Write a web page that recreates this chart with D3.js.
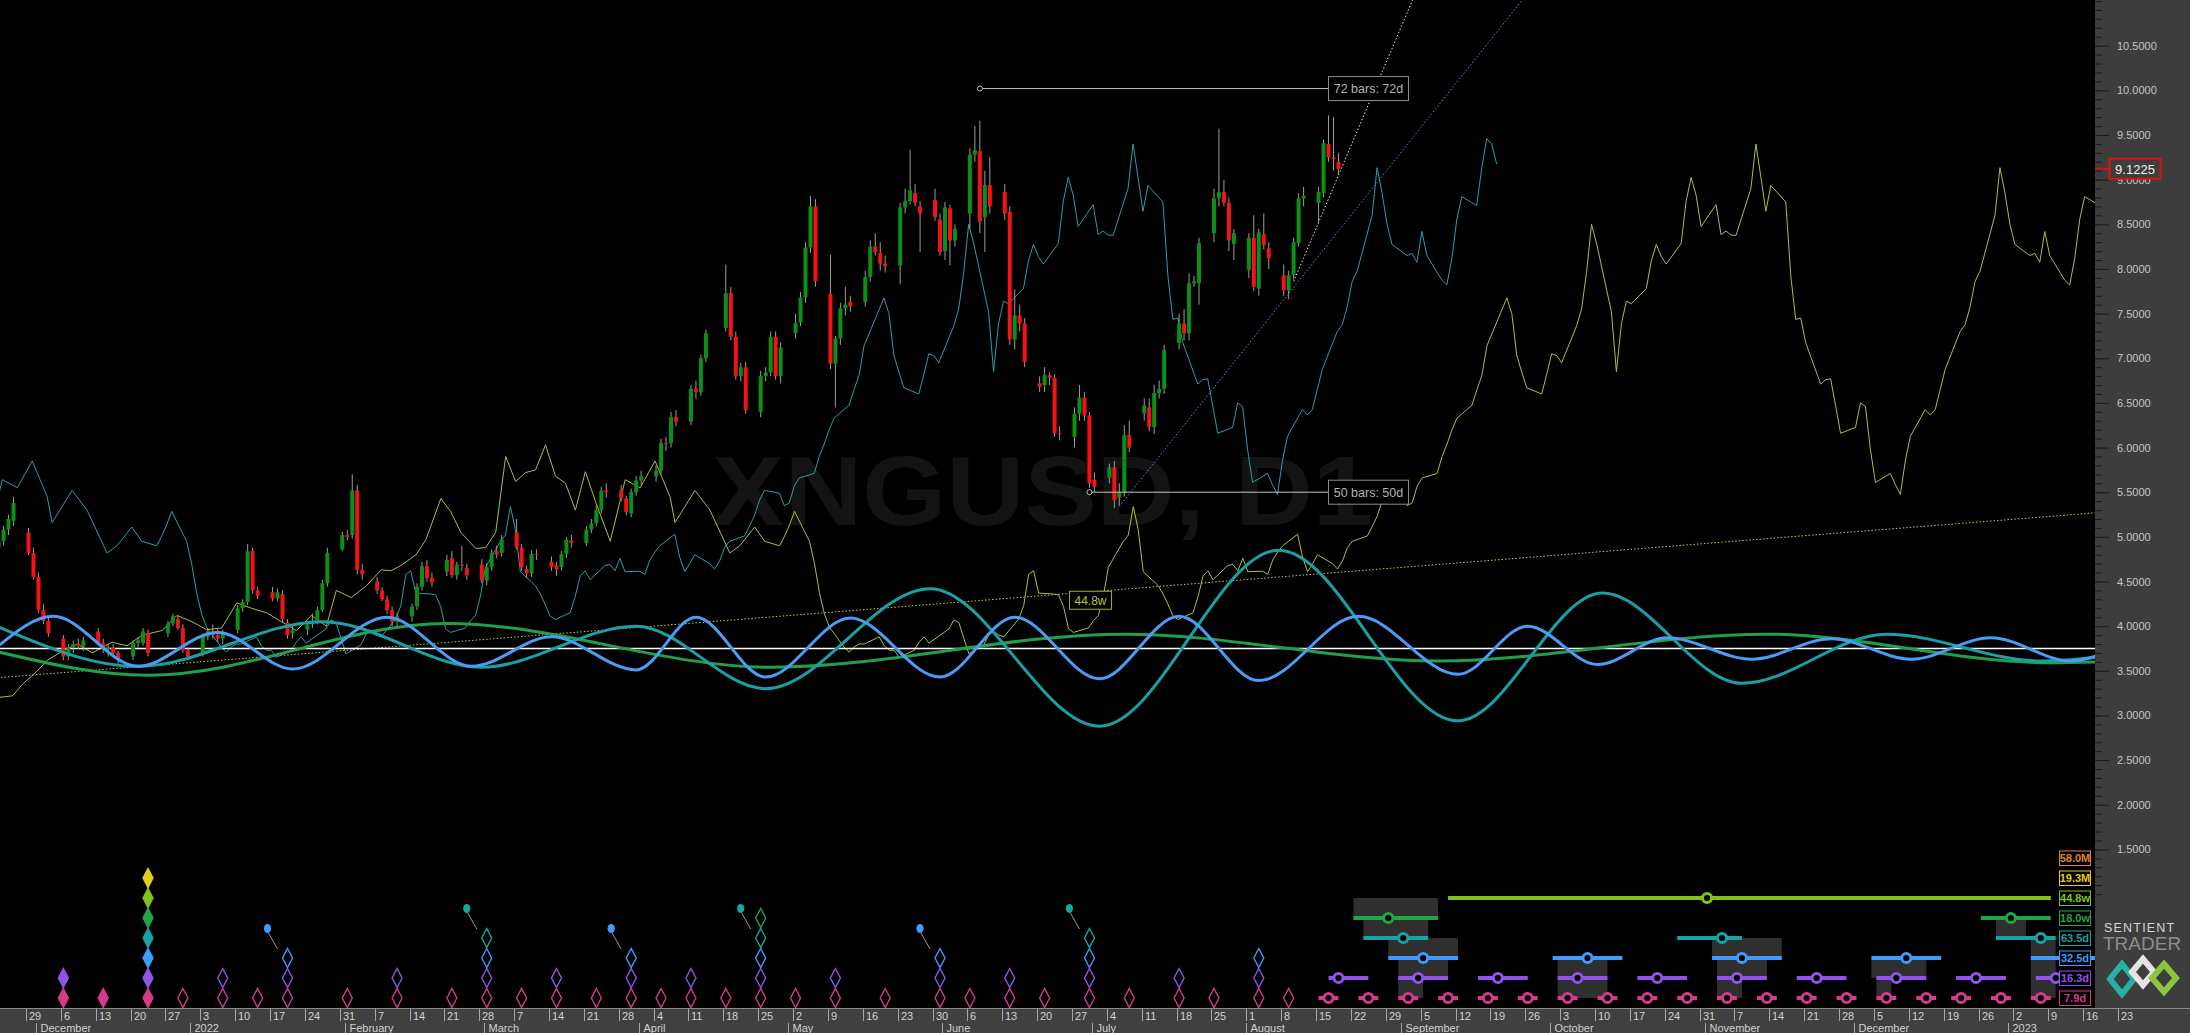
<!DOCTYPE html>
<html><head><meta charset="utf-8">
<script src="https://cdn.jsdelivr.net/npm/d3@7"></script>
<style>
html,body{margin:0;padding:0;background:#000;overflow:hidden}
svg{display:block}
text{font-family:"Liberation Sans",Arial,sans-serif}
</style></head><body>
<svg id="chart" width="2190" height="1033"></svg>
<script>
// ---------------- DATA ----------------
const symbolTitle = "XNGUSD, D1";
const lastPrice = 9.1225;
const zeroLine = 3.75;

// daily candles: date, open, high, low, close
const candles = [
["2021-11-23",4.88,5.00,4.80,4.95],["2021-11-24",4.95,5.12,4.90,5.08],["2021-11-25",5.08,5.25,5.02,5.20],["2021-11-26",5.18,5.45,5.12,5.38],
["2021-11-29",5.05,5.10,4.80,4.82],["2021-11-30",4.82,4.88,4.52,4.55],["2021-12-01",4.55,4.60,4.15,4.18],["2021-12-02",4.18,4.25,4.02,4.06],["2021-12-03",4.06,4.10,3.88,3.92],
["2021-12-06",3.86,3.90,3.62,3.66],["2021-12-07",3.66,3.80,3.62,3.76],["2021-12-08",3.76,3.84,3.70,3.80],["2021-12-09",3.80,3.86,3.74,3.78],["2021-12-10",3.77,3.88,3.72,3.84],
["2021-12-13",3.94,3.98,3.78,3.81],["2021-12-14",3.81,3.86,3.70,3.74],["2021-12-15",3.74,3.80,3.66,3.76],["2021-12-16",3.76,3.80,3.66,3.70],["2021-12-17",3.70,3.72,3.58,3.62],
["2021-12-20",3.66,3.84,3.62,3.81],["2021-12-21",3.81,3.88,3.76,3.84],["2021-12-22",3.81,3.98,3.78,3.94],["2021-12-23",3.92,3.96,3.66,3.70],
["2021-12-27",3.92,4.06,3.88,4.03],["2021-12-28",4.03,4.14,4.00,4.11],["2021-12-29",4.08,4.12,3.96,3.98],["2021-12-30",3.98,4.02,3.70,3.73],["2021-12-31",3.73,3.76,3.62,3.66],
["2022-01-03",3.70,3.92,3.66,3.88],["2022-01-04",3.88,3.98,3.84,3.94],["2022-01-05",3.94,4.02,3.86,3.90],["2022-01-06",3.90,3.98,3.82,3.86],["2022-01-07",3.86,3.96,3.80,3.92],
["2022-01-10",3.96,4.24,3.92,4.20],["2022-01-11",4.20,4.30,4.16,4.27],["2022-01-12",4.27,4.92,4.24,4.84],["2022-01-13",4.84,4.88,4.36,4.40],["2022-01-14",4.40,4.44,4.30,4.34],
["2022-01-17",4.38,4.44,4.28,4.31],["2022-01-18",4.31,4.42,4.28,4.38],["2022-01-19",4.36,4.40,4.04,4.08],["2022-01-20",4.04,4.08,3.86,3.90],["2022-01-21",3.92,4.00,3.86,3.96],
["2022-01-24",3.96,4.06,3.90,4.02],["2022-01-25",4.02,4.14,3.98,4.06],["2022-01-26",4.06,4.22,4.02,4.18],["2022-01-27",4.18,4.52,4.16,4.48],["2022-01-28",4.48,4.88,4.44,4.82],
["2022-01-31",4.86,5.06,4.84,5.02],["2022-02-01",5.02,5.08,4.96,5.00],["2022-02-02",5.02,5.70,4.98,5.52],["2022-02-03",5.52,5.58,4.58,4.63],["2022-02-04",4.63,4.70,4.52,4.58],
["2022-02-07",4.50,4.55,4.36,4.40],["2022-02-08",4.40,4.44,4.28,4.30],["2022-02-09",4.30,4.34,4.14,4.18],["2022-02-10",4.18,4.22,4.00,4.05],["2022-02-11",4.05,4.15,4.00,4.11],
["2022-02-14",4.11,4.25,4.05,4.22],["2022-02-15",4.22,4.48,4.18,4.44],["2022-02-16",4.44,4.72,4.40,4.67],["2022-02-17",4.67,4.74,4.50,4.54],["2022-02-18",4.54,4.60,4.44,4.49],
["2022-02-21",4.61,4.80,4.56,4.74],["2022-02-22",4.76,4.84,4.54,4.57],["2022-02-23",4.57,4.72,4.52,4.69],["2022-02-24",4.69,4.90,4.62,4.68],["2022-02-25",4.65,4.70,4.52,4.57],
["2022-02-28",4.69,4.75,4.48,4.51],["2022-03-01",4.51,4.70,4.46,4.66],["2022-03-02",4.66,4.86,4.62,4.82],["2022-03-03",4.84,4.90,4.76,4.80],["2022-03-04",4.82,5.02,4.78,4.97],
["2022-03-07",5.05,5.20,4.86,4.88],["2022-03-08",4.88,4.92,4.62,4.66],["2022-03-09",4.64,4.68,4.54,4.59],["2022-03-10",4.59,4.85,4.55,4.81],["2022-03-11",4.81,4.86,4.74,4.80],
["2022-03-14",4.72,4.78,4.62,4.66],["2022-03-15",4.68,4.72,4.56,4.64],["2022-03-16",4.66,4.84,4.62,4.81],["2022-03-17",4.81,5.00,4.76,4.97],["2022-03-18",4.96,5.02,4.88,4.93],
["2022-03-21",4.93,5.12,4.90,5.08],["2022-03-22",5.08,5.20,5.04,5.15],["2022-03-23",5.15,5.35,5.12,5.30],["2022-03-24",5.30,5.56,5.26,5.52],["2022-03-25",5.52,5.60,5.44,5.50],
["2022-03-28",5.52,5.58,5.40,5.43],["2022-03-29",5.43,5.46,5.24,5.28],["2022-03-30",5.26,5.54,5.22,5.50],["2022-03-31",5.50,5.68,5.46,5.63],["2022-04-01",5.63,5.74,5.58,5.68],
["2022-04-04",5.68,5.80,5.62,5.74],["2022-04-05",5.74,6.10,5.70,6.05],["2022-04-06",6.05,6.12,5.96,6.04],["2022-04-07",6.05,6.40,6.00,6.34],["2022-04-08",6.34,6.42,6.24,6.29],
["2022-04-11",6.29,6.70,6.25,6.66],["2022-04-12",6.66,6.75,6.55,6.62],["2022-04-13",6.62,7.04,6.58,7.00],["2022-04-14",7.00,7.32,6.96,7.28],
["2022-04-18",7.34,8.05,7.30,7.73],["2022-04-19",7.73,7.80,7.20,7.24],["2022-04-20",7.24,7.30,6.76,6.80],["2022-04-21",6.80,6.95,6.74,6.90],["2022-04-22",6.90,6.96,6.38,6.42],
["2022-04-25",6.40,6.86,6.34,6.80],["2022-04-26",6.80,6.90,6.74,6.84],["2022-04-27",6.84,7.30,6.80,7.24],["2022-04-28",7.24,7.30,6.76,6.80],["2022-04-29",6.80,7.18,6.72,7.12],
["2022-05-02",7.28,7.50,7.22,7.40],["2022-05-03",7.40,7.74,7.36,7.68],["2022-05-04",7.68,8.30,7.62,8.24],["2022-05-05",8.24,8.82,8.18,8.70],["2022-05-06",8.70,8.78,7.80,7.86],
["2022-05-09",7.72,8.16,6.88,6.94],["2022-05-10",6.94,7.25,6.45,7.22],["2022-05-11",7.22,7.62,7.15,7.56],["2022-05-12",7.56,7.80,7.48,7.60],["2022-05-13",7.63,7.70,7.52,7.58],
["2022-05-16",7.63,7.98,7.58,7.91],["2022-05-17",7.91,8.32,7.86,8.25],["2022-05-18",8.25,8.40,8.15,8.19],["2022-05-19",8.18,8.30,7.98,8.06],["2022-05-20",8.06,8.15,7.96,8.03],
["2022-05-23",8.04,8.74,7.83,8.69],["2022-05-24",8.69,8.90,8.62,8.76],["2022-05-25",8.76,9.33,8.72,8.88],["2022-05-26",8.85,8.95,8.70,8.74],["2022-05-27",8.70,8.76,8.19,8.62],
["2022-05-30",8.77,8.90,8.54,8.58],["2022-05-31",8.55,8.62,8.15,8.19],["2022-06-01",8.20,8.75,8.10,8.69],["2022-06-02",8.68,8.72,8.04,8.32],["2022-06-03",8.32,8.50,8.25,8.45],
["2022-06-06",8.62,9.35,8.45,9.28],["2022-06-07",9.28,9.60,9.20,9.33],["2022-06-08",9.32,9.66,8.40,8.53],["2022-06-09",8.58,9.10,8.19,8.94],["2022-06-10",8.94,9.25,8.62,8.70],
["2022-06-13",8.86,8.95,8.55,8.62],["2022-06-14",8.64,8.70,7.15,7.21],["2022-06-15",7.21,7.77,7.10,7.48],["2022-06-16",7.48,7.60,7.30,7.39],["2022-06-17",7.39,7.45,6.90,6.96],
["2022-06-20",6.72,6.80,6.62,6.68],["2022-06-21",6.70,6.90,6.62,6.81],["2022-06-22",6.81,6.84,6.70,6.78],["2022-06-23",6.78,6.82,6.12,6.16],["2022-06-24",6.16,6.24,6.08,6.15],
["2022-06-27",6.12,6.45,6.00,6.38],["2022-06-28",6.38,6.70,6.30,6.56],["2022-06-29",6.56,6.62,6.30,6.36],["2022-06-30",6.36,6.40,5.55,5.60],["2022-07-01",5.64,5.72,5.50,5.56],
["2022-07-04",5.66,5.82,5.60,5.78],["2022-07-05",5.78,5.85,5.32,5.41],["2022-07-06",5.44,5.60,5.35,5.50],["2022-07-07",5.49,6.25,5.45,6.14],["2022-07-08",6.14,6.30,5.95,6.00],
["2022-07-11",6.38,6.55,6.30,6.47],["2022-07-12",6.45,6.55,6.18,6.23],["2022-07-13",6.23,6.70,6.15,6.61],["2022-07-14",6.61,6.75,6.55,6.66],["2022-07-15",6.66,7.15,6.60,7.09],
["2022-07-18",7.17,7.50,7.10,7.39],["2022-07-19",7.39,7.55,7.20,7.28],["2022-07-20",7.28,7.95,7.20,7.84],["2022-07-21",7.84,7.92,7.80,7.86],["2022-07-22",7.84,8.35,7.60,8.29],
["2022-07-25",8.40,8.90,8.30,8.79],["2022-07-26",8.79,9.57,8.70,8.86],["2022-07-27",8.86,9.00,8.70,8.74],["2022-07-28",8.74,8.80,8.20,8.32],["2022-07-29",8.28,8.45,8.10,8.40],
["2022-08-01",7.99,8.40,7.90,8.35],["2022-08-02",8.35,8.60,7.75,7.80],["2022-08-03",7.78,8.45,7.70,8.41],["2022-08-04",8.39,8.62,8.22,8.27],["2022-08-05",8.23,8.30,8.00,8.12],
["2022-08-08",7.93,8.05,7.70,7.76],["2022-08-09",7.76,7.98,7.66,7.93],["2022-08-10",7.93,8.35,7.88,8.30],["2022-08-11",8.29,8.85,8.25,8.79],["2022-08-12",8.79,8.92,8.70,8.82],
["2022-08-15",8.74,8.92,8.50,8.86],["2022-08-16",8.85,9.45,8.80,9.41],["2022-08-17",9.40,9.72,9.20,9.25],["2022-08-18",9.25,9.70,9.10,9.23],["2022-08-19",9.20,9.30,9.05,9.12]
];

// median prices before the visible window
const preMedians = [
["2021-06-19",3.20],["2021-06-22",3.22],["2021-06-24",3.35],["2021-06-27",3.50],["2021-06-29",3.62],["2021-07-02",3.72],["2021-07-05",3.80],
["2021-07-08",3.70],["2021-07-12",3.82],["2021-07-15",3.78],["2021-07-18",3.90],["2021-07-22",3.95],["2021-07-25",4.12],["2021-07-28",4.05],
["2021-07-31",3.96],["2021-08-03",3.98],["2021-08-06",4.26],["2021-08-09",4.20],["2021-08-12",4.15],["2021-08-15",4.05],["2021-08-18",3.95],
["2021-08-21",4.12],["2021-08-24",4.00],["2021-08-26",4.40],["2021-08-29",4.32],["2021-09-01",4.45],["2021-09-04",4.63],["2021-09-06",4.62],
["2021-09-08",4.68],["2021-09-11",4.80],["2021-09-13",4.97],["2021-09-16",5.43],["2021-09-18",5.28],["2021-09-20",5.05],["2021-09-23",4.87],
["2021-09-25",4.88],["2021-09-27",5.05],["2021-09-29",5.90],["2021-10-01",5.62],["2021-10-03",5.72],["2021-10-05",5.75],["2021-10-07",6.03],
["2021-10-09",5.68],["2021-10-11",5.60],["2021-10-13",5.30],["2021-10-15",5.73],["2021-10-17",5.40],["2021-10-20",4.95],["2021-10-23",5.64],
["2021-10-26",5.55],["2021-10-29",5.85],["2021-11-01",5.45],["2021-11-02",5.16],["2021-11-06",5.52],["2021-11-09",5.30],["2021-11-13",4.82],
["2021-11-15",4.90],["2021-11-18",5.11],["2021-11-20",4.95]
];

// forward-shifted median lines (FLDs): half cycle in calendar days
const fldShifts = [["63.5d",31.75,"#2a9fa6"],["44.8w",156.8,"#aebf3a"]];

// cycle component waves: turning points [date, value]
const blueWave = [["2021-11-23",3.78],["2021-12-04",4.11],["2021-12-21",3.55],["2022-01-06",3.93],["2022-01-21",3.52],["2022-02-09",4.10],["2022-02-26",3.55],
["2022-03-14",3.88],["2022-03-31",3.51],["2022-04-12",4.10],["2022-04-26",3.43],["2022-05-13",4.09],["2022-05-31",3.43],["2022-06-15",4.10],["2022-07-02",3.41],
["2022-07-18",4.11],["2022-08-03",3.39],["2022-08-23",4.11],["2022-09-12",3.46],["2022-09-26",4.00],["2022-10-10",3.57],["2022-10-24",3.87],["2022-11-10",3.63],
["2022-11-26",3.86],["2022-12-12",3.63],["2022-12-28",3.87],["2023-01-13",3.61],["2023-01-19",3.68]];
const tealWave = [["2021-11-23",3.99],["2021-12-21",3.55],["2022-01-27",4.05],["2022-02-28",3.54],["2022-03-31",4.00],["2022-04-26",3.30],["2022-05-29",4.42],
["2022-07-02",2.88],["2022-08-07",4.85],["2022-09-12",2.94],["2022-10-11",4.37],["2022-11-08",3.36],["2022-12-07",3.91],["2023-01-07",3.61],["2023-01-18",3.65]];
const greenWave = [["2021-11-23",3.71],["2021-12-23",3.45],["2022-02-21",4.03],["2022-04-27",3.54],["2022-07-07",3.91],["2022-09-08",3.61],["2022-11-13",3.91],
["2023-01-09",3.59],["2023-01-19",3.60]];

// trend lines
const fldTrend = [["2021-11-20",3.41],["2023-01-25",5.30]];
const blueTrend = [["2022-07-06",5.34],["2022-09-26",11.09]];
const whiteTrend = [["2022-08-10",7.86],["2022-09-03",11.03]];

// measurement annotations
const measures = [["2022-06-08","2022-08-19",10.02,"72 bars: 72d"],["2022-06-30","2022-08-19",5.50,"50 bars: 50d"]];
const fldLabel = ["2022-06-25",4.29,"44.8w"];

// cycle levels (legend)
const levels = ["58.0M","19.3M","44.8w","18.0w","63.5d","32.5d","16.3d","7.9d"];
const levelColors = ["#df862a","#e3cd20","#82c21c","#21a645","#17a4a4","#3f9bff","#9054e8","#d53b8b"];

// past cycle troughs [date, filled]
const trough79 = [["2021-12-06",1],["2021-12-14",1],["2021-12-23",1],["2021-12-30",0],["2022-01-07",0],["2022-01-14",0],["2022-01-20",0],["2022-02-01",0],
["2022-02-11",0],["2022-02-22",0],["2022-03-01",0],["2022-03-08",0],["2022-03-15",0],["2022-03-23",0],["2022-03-30",0],["2022-04-05",0],["2022-04-11",0],
["2022-04-18",0],["2022-04-25",0],["2022-05-02",0],["2022-05-10",0],["2022-05-20",0],["2022-05-31",0],["2022-06-06",0],["2022-06-14",0],["2022-06-21",0],
["2022-06-30",0],["2022-07-08",0],["2022-07-18",0],["2022-07-25",0],["2022-08-03",0],["2022-08-09",0]];
const trough163 = [["2021-12-06",1],["2021-12-23",1],["2022-01-07",0],["2022-01-20",0],["2022-02-11",0],["2022-03-01",0],["2022-03-15",0],["2022-03-30",0],
["2022-04-11",0],["2022-04-25",0],["2022-05-10",0],["2022-05-31",0],["2022-06-14",0],["2022-06-30",0],["2022-07-18",0],["2022-08-03",0]];
const trough325 = [["2021-12-23",1],["2022-01-20",0],["2022-03-01",0],["2022-03-30",0],["2022-04-25",0],["2022-05-31",0],["2022-06-30",0],["2022-08-03",0]];
const trough635 = [["2021-12-23",1],["2022-03-01",0],["2022-04-25",0],["2022-06-30",0]];
const trough18w = [["2021-12-23",1],["2022-04-25",0]];
const trough448w = [["2021-12-23",1]];
const trough193M = [["2021-12-23",1]];
const dotMarkers = [["2022-01-20","32.5d"],["2022-03-01","63.5d"],["2022-03-30","32.5d"],["2022-04-25","63.5d"],["2022-05-31","32.5d"],["2022-06-30","63.5d"]];

// projected troughs [center, from, to]
const proj79 = [["2022-08-17","2022-08-15","2022-08-19"],["2022-08-25","2022-08-23","2022-08-27"],["2022-09-02","2022-08-31","2022-09-04"],["2022-09-10","2022-09-08","2022-09-12"],
["2022-09-18","2022-09-16","2022-09-20"],["2022-09-26","2022-09-24","2022-09-28"],["2022-10-04","2022-10-02","2022-10-06"],["2022-10-12","2022-10-10","2022-10-14"],
["2022-10-20","2022-10-18","2022-10-22"],["2022-10-28","2022-10-26","2022-10-30"],["2022-11-05","2022-11-03","2022-11-07"],["2022-11-13","2022-11-11","2022-11-15"],
["2022-11-21","2022-11-19","2022-11-23"],["2022-11-29","2022-11-27","2022-12-01"],["2022-12-07","2022-12-05","2022-12-09"],["2022-12-15","2022-12-13","2022-12-17"],
["2022-12-22","2022-12-20","2022-12-24"],["2022-12-30","2022-12-28","2023-01-01"],["2023-01-07","2023-01-05","2023-01-09"]];
const proj163 = [["2022-08-19","2022-08-17","2022-08-25"],["2022-09-04","2022-08-31","2022-09-10"],["2022-09-20","2022-09-16","2022-09-26"],["2022-10-06","2022-10-02","2022-10-12"],
["2022-10-22","2022-10-18","2022-10-28"],["2022-11-07","2022-11-03","2022-11-13"],["2022-11-23","2022-11-19","2022-11-29"],["2022-12-09","2022-12-05","2022-12-15"],
["2022-12-25","2022-12-21","2022-12-31"],["2023-01-10","2023-01-06","2023-01-16"]];
const proj325 = [["2022-09-05","2022-08-29","2022-09-12"],["2022-10-08","2022-10-01","2022-10-15"],["2022-11-08","2022-11-02","2022-11-16"],
["2022-12-11","2022-12-04","2022-12-18"],["2023-01-13","2023-01-05","2023-01-19"]];
const proj635 = [["2022-09-01","2022-08-24","2022-09-06"],["2022-11-04","2022-10-26","2022-11-08"],["2023-01-07","2022-12-29","2023-01-10"]];
const proj18w = [["2022-08-29","2022-08-22","2022-09-08"],["2023-01-01","2022-12-26","2023-01-09"]];
const proj448w = [["2022-11-01","2022-09-10","2023-01-09"]];

// nested-trough windows [from, to, upper level, lower level]
const clusterBoxes = [["2022-08-22","2022-09-08","44.8w","18.0w"],["2022-08-24","2022-09-06","18.0w","63.5d"],["2022-08-29","2022-09-12","63.5d","32.5d"],
["2022-08-31","2022-09-10","32.5d","16.3d"],["2022-08-31","2022-09-05","16.3d","7.9d"],["2022-10-02","2022-10-12","32.5d","7.9d"],
["2022-11-02","2022-11-16","63.5d","32.5d"],["2022-11-03","2022-11-13","32.5d","16.3d"],["2022-11-03","2022-11-08","16.3d","7.9d"],
["2022-12-04","2022-12-15","32.5d","16.3d"],["2022-12-05","2022-12-08","16.3d","7.9d"],["2022-12-29","2023-01-04","18.0w","63.5d"],
["2023-01-05","2023-01-10","63.5d","7.9d"]];

// ---------------- CHART ----------------
const W = 2190, H = 1033, PR = 2095, AXT = 1008;
const parse = d3.utcParse("%Y-%m-%d");
const x = d3.scaleUtc().domain([parse("2021-11-29"), parse("2023-01-23")]).range([26, 2118]);
const xc = d => x(d3.utcHour.offset(d, 12));
const y = d3.scaleLinear().domain([1.5, 10.5]).range([849.4, 45.7]);
const row = d3.scalePoint().domain(levels).range([858, 998]);
const colorOf = d3.scaleOrdinal().domain(levels).range(levelColors);

const svg = d3.select("#chart");
svg.append("rect").attr("width", W).attr("height", H).attr("fill", "#000");
svg.append("defs").append("clipPath").attr("id", "pc").append("rect")
  .attr("x", 0).attr("y", 0).attr("width", PR).attr("height", AXT);
const plot = svg.append("g").attr("clip-path", "url(#pc)");

// watermark
plot.append("text").attr("x", 712).attr("y", 525).attr("font-size", 98).attr("font-weight", "bold")
  .attr("textLength", 661).attr("lengthAdjust", "spacingAndGlyphs").attr("fill", "#131313").text(symbolTitle);

const line = d3.line().x(d => xc(parse(d[0]))).y(d => y(d[1]));

// trend lines (dotted)
[[fldTrend, "#c6cf48"], [blueTrend, "#7080f0"], [whiteTrend, "#e8e8e8"]].forEach(([pts, c]) => {
  plot.append("path").attr("d", line(pts)).attr("fill", "none").attr("stroke", c)
    .attr("stroke-width", 1).attr("stroke-dasharray", "1.5,2");
});

// FLD lines
const medians = preMedians.map(d => ({date: parse(d[0]), v: d[1]}))
  .concat(candles.map(c => ({date: parse(c[0]), v: (c[2] + c[3]) / 2})));
fldShifts.forEach(([name, days, c]) => {
  const g = d3.line().x(p => xc(new Date(p.date.getTime() + days * 864e5))).y(p => y(p.v));
  plot.append("path").attr("d", g(medians)).attr("fill", "none").attr("stroke", c).attr("stroke-width", 1);
});

// zero line
plot.append("line").attr("x1", 0).attr("x2", PR).attr("y1", y(zeroLine)).attr("y2", y(zeroLine))
  .attr("stroke", "#ffffff").attr("stroke-width", 1.5);

// candles
const cg = plot.append("g");
cg.selectAll("line.w").data(candles).join("line").attr("class", "w")
  .attr("x1", d => xc(parse(d[0]))).attr("x2", d => xc(parse(d[0])))
  .attr("y1", d => y(d[2])).attr("y2", d => y(d[3])).attr("stroke", "#9c9c9c").attr("stroke-width", 1);
cg.selectAll("rect.b").data(candles).join("rect").attr("class", "b")
  .attr("x", d => xc(parse(d[0])) - 2).attr("width", 4)
  .attr("y", d => y(Math.max(d[1], d[4])))
  .attr("height", d => Math.max(1, Math.abs(y(d[1]) - y(d[4]))))
  .attr("fill", d => d[4] >= d[1] ? "#0b8f14" : "#f51212");

// cycle waves
const waveLine = d3.line().x(d => xc(parse(d[0]))).y(d => y(d[1])).curve(d3.curveMonotoneX);
[[greenWave, "#20a04c"], [tealWave, "#1a9fa6"], [blueWave, "#4a9cf6"]].forEach(([w, c]) => {
  plot.append("path").attr("d", waveLine(w)).attr("fill", "none").attr("stroke", c).attr("stroke-width", 3);
});

// measurement annotations
measures.forEach(([s, e, v, t]) => {
  const x1 = xc(parse(s)), x2 = xc(parse(e)), yy = y(v);
  plot.append("line").attr("x1", x1).attr("x2", x2).attr("y1", yy).attr("y2", yy).attr("stroke", "#c4c4c4").attr("stroke-width", 1);
  plot.append("circle").attr("cx", x1).attr("cy", yy).attr("r", 2.5).attr("fill", "#000").attr("stroke", "#c4c4c4");
  plot.append("rect").attr("x", x2 - 10).attr("y", yy - 12).attr("width", 80).attr("height", 24)
    .attr("fill", "#000").attr("stroke", "#8c8c8c").attr("stroke-width", 1);
  plot.append("text").attr("x", x2 + 30).attr("y", yy + 4.5).attr("text-anchor", "middle")
    .attr("font-size", 12.5).attr("fill", "#b4b4b4").text(t);
});
{
  const bx = xc(parse(fldLabel[0])) + 5, by = y(fldLabel[1]);
  plot.append("rect").attr("x", bx).attr("y", by - 9).attr("width", 42).attr("height", 18)
    .attr("fill", "#000").attr("stroke", "#94b03c").attr("stroke-width", 1);
  plot.append("text").attr("x", bx + 21).attr("y", by + 4.5).attr("text-anchor", "middle")
    .attr("font-size", 12).attr("fill", "#a8c43e").text(fldLabel[2]);
}

// ---- cycle trough panel ----
const panel = plot.append("g");
clusterBoxes.forEach(([s, e, a, b]) => {
  panel.append("rect").attr("x", xc(parse(s))).attr("width", xc(parse(e)) - xc(parse(s)))
    .attr("y", row(a)).attr("height", row(b) - row(a)).attr("fill", "#2f2f2f");
});
const diamond = "M0,-9.5L5,0L0,9.5L-5,0Z";
[["7.9d", trough79], ["16.3d", trough163], ["32.5d", trough325], ["63.5d", trough635],
 ["18.0w", trough18w], ["44.8w", trough448w], ["19.3M", trough193M]].forEach(([lv, arr]) => {
  const c = colorOf(lv);
  panel.selectAll(null).data(arr).join("path").attr("d", diamond)
    .attr("transform", d => `translate(${xc(parse(d[0]))},${row(lv)})`)
    .attr("fill", d => d[1] ? c : "none").attr("stroke", c).attr("stroke-width", 1.4);
});
dotMarkers.forEach(([d, lv]) => {
  const cx = xc(parse(d)), ry = row(lv), c = colorOf(lv);
  panel.append("line").attr("x1", cx - 19).attr("y1", ry - 25).attr("x2", cx - 10).attr("y2", ry - 9)
    .attr("stroke", "#bdbdbd").attr("stroke-width", 0.8);
  panel.append("ellipse").attr("cx", cx - 20).attr("cy", ry - 29.5).attr("rx", 3.6).attr("ry", 4.6).attr("fill", c);
});
[["7.9d", proj79], ["16.3d", proj163], ["32.5d", proj325], ["63.5d", proj635], ["18.0w", proj18w], ["44.8w", proj448w]]
  .forEach(([lv, arr]) => {
    const c = colorOf(lv), ry = row(lv);
    arr.forEach(([m, s, e]) => {
      panel.append("line").attr("x1", xc(parse(s))).attr("x2", xc(parse(e))).attr("y1", ry).attr("y2", ry)
        .attr("stroke", c).attr("stroke-width", 4);
      panel.append("circle").attr("cx", xc(parse(m))).attr("cy", ry).attr("r", 4.6)
        .attr("fill", "#000").attr("stroke", c).attr("stroke-width", 3);
    });
  });

// legend boxes
levels.forEach(lv => {
  const c = colorOf(lv), ry = row(lv);
  svg.append("rect").attr("x", 2059.5).attr("y", ry - 7).attr("width", 31).attr("height", 14.5)
    .attr("fill", "#000").attr("stroke", c).attr("stroke-width", 1);
  svg.append("text").attr("x", 2075).attr("y", ry + 4).attr("text-anchor", "middle")
    .attr("font-size", 11).attr("font-weight", "bold").attr("fill", c).text(lv);
});

// ---- right price axis ----
svg.append("rect").attr("x", PR).attr("y", 0).attr("width", W - PR).attr("height", AXT).attr("fill", "#3d3d3d");
const minorAxis = d3.axisRight(y).tickValues(d3.range(10, 111).map(i => i / 10)).tickSize(7).tickFormat("");
const majorAxis = d3.axisRight(y).tickValues(d3.range(3, 22).map(i => i / 2)).tickSize(14).tickPadding(8)
  .tickFormat(d3.format(".4f"));
const ga = svg.append("g").attr("transform", `translate(${PR},0)`).call(minorAxis);
const gb = svg.append("g").attr("transform", `translate(${PR},0)`).call(majorAxis);
[ga, gb].forEach(g => {
  g.select(".domain").remove();
  g.selectAll("line").attr("stroke", "#1c1c1c");
  g.selectAll("text").attr("fill", "#c6c6c6").attr("font-size", 11).attr("font-family", "Liberation Sans, Arial, sans-serif");
});
// last price marker
{
  const py = y(lastPrice);
  svg.append("line").attr("x1", PR).attr("x2", 2110).attr("y1", py).attr("y2", py).attr("stroke", "#e01010").attr("stroke-width", 2);
  svg.append("rect").attr("x", 2109.5).attr("y", py - 10).attr("width", 51).attr("height", 20)
    .attr("fill", "#3d3d3d").attr("stroke", "#e01010").attr("stroke-width", 2);
  svg.append("text").attr("x", 2135).attr("y", py + 5).attr("text-anchor", "middle")
    .attr("font-size", 13).attr("fill", "#f2f2f2").text(d3.format(".4f")(lastPrice));
}

// logo
{
  const lg = svg.append("g");
  lg.append("text").attr("x", 2104).attr("y", 932).attr("font-size", 12.5).attr("letter-spacing", 1.2)
    .attr("fill", "#d6d6d6").text("SENTIENT");
  lg.append("text").attr("x", 2103).attr("y", 950).attr("font-size", 19).attr("fill", "#8e8e8e").text("TRADER");
  const rh = (cx, cy, hw, hh) => `M${cx},${cy - hh}L${cx + hw},${cy}L${cx},${cy + hh}L${cx - hw},${cy}Z`;
  lg.append("path").attr("d", rh(2122, 979, 12, 15)).attr("fill", "none").attr("stroke", "#27b1a6").attr("stroke-width", 6);
  lg.append("path").attr("d", rh(2143, 972, 11, 13)).attr("fill", "none").attr("stroke", "#e4e4e4").attr("stroke-width", 6);
  lg.append("path").attr("d", rh(2164, 978, 12, 14)).attr("fill", "none").attr("stroke", "#8cc63f").attr("stroke-width", 6);
}

// ---- bottom time axis ----
svg.append("rect").attr("x", 0).attr("y", AXT).attr("width", W).attr("height", H - AXT).attr("fill", "#404040");
svg.append("line").attr("x1", 0).attr("x2", W).attr("y1", AXT + 0.5).attr("y2", AXT + 0.5).attr("stroke", "#8a8a8a");
const mondays = d3.utcMonday.range(parse("2021-11-29"), parse("2023-01-24"));
const ax = svg.append("g");
mondays.forEach(m => {
  const px = Math.round(x(m)) + 0.5;
  ax.append("line").attr("x1", px).attr("x2", px).attr("y1", AXT + 1).attr("y2", AXT + 13).attr("stroke", "#a8a8a8");
  ax.append("text").attr("x", px + 2.5).attr("y", AXT + 12).attr("font-size", 11).attr("fill", "#d2d2d2")
    .text(d3.utcFormat("%-d")(m));
});
const months = d3.utcMonth.range(parse("2021-12-01"), parse("2023-01-24"));
months.forEach(m => {
  const px = Math.round(x(m)) + 0.5;
  ax.append("line").attr("x1", px).attr("x2", px).attr("y1", AXT + 15).attr("y2", H).attr("stroke", "#a8a8a8");
  ax.append("text").attr("x", px + 4).attr("y", AXT + 24).attr("font-size", 11).attr("fill", "#d2d2d2")
    .text(m.getUTCMonth() === 0 ? d3.utcFormat("%Y")(m) : d3.utcFormat("%B")(m));
});
</script></body></html>
